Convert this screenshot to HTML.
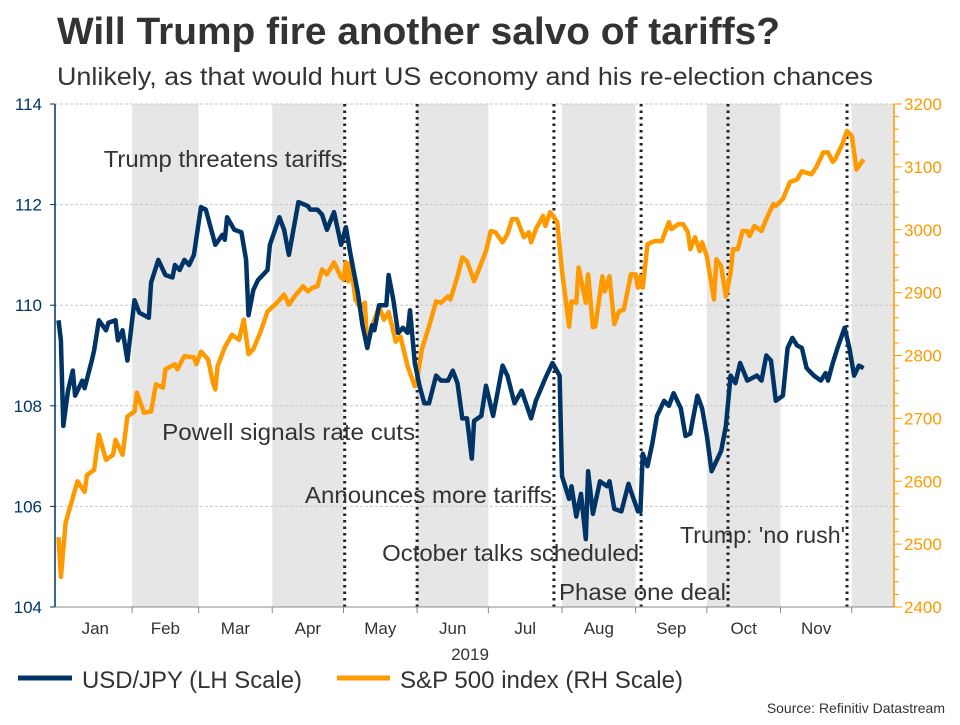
<!DOCTYPE html>
<html><head><meta charset="utf-8"><style>
body{margin:0;background:#fff;}
svg text{font-family:"Liberation Sans",sans-serif;}
</style></head><body>
<svg id="chart" width="960" height="720" xmlns="http://www.w3.org/2000/svg">
<rect width="960" height="720" fill="#fff"/>
<text x="57" y="44" font-size="38" font-weight="bold" fill="#333" textLength="723" lengthAdjust="spacingAndGlyphs">Will Trump fire another salvo of tariffs?</text>
<text x="57" y="85" font-size="25" fill="#333" textLength="816" lengthAdjust="spacingAndGlyphs">Unlikely, as that would hurt US economy and his re-election chances</text>
<g id="bands"></g><g id="grid"></g><g id="events"></g><g id="series"></g><g id="axes"></g><g id="notes"></g>
<line x1="18" y1="678" x2="72" y2="678" stroke="#003467" stroke-width="5"/>
<text x="82" y="688" font-size="24" fill="#333" textLength="220" lengthAdjust="spacingAndGlyphs">USD/JPY (LH Scale)</text>
<line x1="337" y1="678" x2="390" y2="678" stroke="#ff9900" stroke-width="5"/>
<text x="400" y="688" font-size="24" fill="#333" textLength="283" lengthAdjust="spacingAndGlyphs">S&amp;P 500 index (RH Scale)</text>
<text x="945" y="713" font-size="14" fill="#333" text-anchor="end">Source: Refinitiv Datastream</text>
</svg>
<script>
const jpyDays=[0,1,2,4,6,7,10,11,14,15,17,20,21,24,25,27,29,32,34,38,39,42,45,48,49,51,53,55,57,60,62,66,69,70,71,74,77,79,80,82,84,88,89,93,95,97,101,105,106,109,111,113,116,119,121,123,126,128,130,132,133,135,138,139,141,143,145,147,148,150,152,154,156,159,161,164,166,168,170,172,174,175,178,180,183,185,187,189,192,195,199,201,205,208,211,212,215,216,218,220,222,223,225,228,231,232,234,237,240,241,244,245,246,248,250,252,255,257,259,262,264,266,267,269,271,273,275,277,279,281,283,285,287,290,294,296,298,300,302,305,307,309,311,313,315,318,321,323,324,326,328,331,333,335,337,339];
const jpyVals=[109.7,109.3,107.6,108.3,108.7,108.2,108.5,108.35,108.9,109.1,109.7,109.5,109.65,109.7,109.3,109.5,108.9,110.1,109.85,109.75,110.45,110.9,110.6,110.55,110.8,110.7,110.9,110.8,111.0,111.95,111.9,111.2,111.4,111.3,111.75,111.5,111.45,110.9,109.8,110.3,110.5,110.7,111.2,111.75,111.5,111.0,112.05,111.97,111.9,111.9,111.8,111.5,111.85,111.2,111.55,111.0,110.25,109.6,109.15,109.6,109.5,110.0,110.0,110.6,110.1,109.45,109.55,109.45,109.9,108.85,108.4,108.05,108.05,108.6,108.5,108.5,108.7,108.45,107.75,107.75,106.95,107.7,107.8,108.4,107.8,108.3,108.8,108.6,108.05,108.3,107.75,108.1,108.55,108.85,108.6,106.6,106.15,106.4,105.8,106.25,105.35,106.7,105.85,106.5,106.4,106.5,105.95,105.9,106.45,106.3,105.9,105.9,107.05,106.8,107.25,107.8,108.1,108.0,108.25,107.95,107.4,107.45,107.7,108.2,107.95,107.4,106.7,106.9,107.1,107.6,108.6,108.45,108.85,108.5,108.6,108.5,109.0,108.9,108.1,108.2,109.15,109.35,109.2,109.15,108.75,108.6,108.5,108.65,108.5,108.85,109.15,109.55,109.15,108.6,108.8,108.75];
const spxDays=[0,1,3,6,8,11,12,15,17,20,23,24,27,29,32,33,36,39,41,44,45,49,50,53,57,58,60,63,65,66,67,70,73,76,78,80,82,85,88,92,95,97,100,103,105,107,109,111,113,116,119,120,121,122,123,125,127,129,130,132,135,137,139,142,144,147,150,151,153,156,159,161,164,165,168,170,172,175,177,180,182,184,187,189,191,193,196,198,199,201,204,205,207,210,212,215,216,218,219,222,223,225,226,229,230,232,234,236,238,241,243,244,245,246,248,251,254,257,258,261,263,265,266,268,270,271,273,276,277,279,281,283,284,286,288,290,291,293,296,298,301,302,305,308,311,313,317,319,322,324,326,327,330,332,334,336,339];
const spxVals=[2511,2448,2534,2574,2600,2583,2610,2618,2674,2634,2642,2666,2642,2703,2711,2741,2709,2711,2754,2749,2778,2786,2778,2799,2797,2786,2806,2794,2757,2746,2783,2813,2833,2825,2857,2802,2810,2837,2870,2884,2897,2881,2897,2910,2902,2908,2910,2937,2929,2948,2924,2921,2948,2918,2948,2889,2876,2884,2813,2846,2878,2857,2869,2822,2830,2783,2751,2762,2810,2846,2886,2884,2894,2889,2926,2956,2950,2918,2937,2966,2998,2996,2980,2993,3017,3017,2988,2996,2980,3001,3022,3006,3028,3012,2934,2846,2886,2884,2940,2884,2929,2845,2846,2926,2902,2926,2850,2870,2873,2929,2929,2908,2926,2908,2977,2982,2982,3012,3001,3009,3009,2996,2969,2988,2966,2980,2958,2889,2953,2942,2894,2932,2969,2969,2998,2998,2990,3006,2998,3017,3041,3038,3049,3076,3080,3093,3088,3099,3123,3123,3108,3112,3136,3157,3149,3096,3112,3120];
const monthLabels=['Jan','Feb','Mar','Apr','May','Jun','Jul','Aug','Sep','Oct','Nov','Dec'];
const monthStarts=[0,31,59,90,120,151,181,212,243,273,304,334,365];
const leftTicks=[104,106,108,110,112,114];
const rightTicks=[2400,2500,2600,2700,2800,2900,3000,3100,3200];
const eventDays=[120.5,151,208.6,245.3,281.9,332];
const noteTexts=["Trump threatens tariffs","Powell signals rate cuts","Announces more tariffs","October talks scheduled","Trump: 'no rush'","Phase one deal"];
const noteEvent=[0,1,2,3,5,4];
const noteY=[167,440,503,561,543,600];
const noteWidth=[239,253,247,257,165,167];

const X0=55,X1=894,Y0=104,Y1=607;
const xs=d=>58.5+d*2.375;
const yl=v=>Y1-(v-104)/10*(Y1-Y0);
const yr=v=>Y1-(v-2400)/800*(Y1-Y0);
const NS='http://www.w3.org/2000/svg';
function mk(p,t,a){const e=document.createElementNS(NS,t);for(const k in a)e.setAttribute(k,a[k]);document.getElementById(p).appendChild(e);return e;}

for(let m=1;m<12;m+=2){
  const x1=xs(monthStarts[m]),x2=Math.min(xs(monthStarts[m+1]),X1);
  const r=mk('bands','rect',{x:x1,y:Y0,width:x2-x1,height:Y1-Y0,fill:'#e6e6e6'});
  
  
}
leftTicks.forEach(v=>{
  const y=yl(v);
  if(v>104){const g=mk('grid','line',{x1:X0,x2:X1,y1:y,y2:y,stroke:'#c8c8c8','stroke-dasharray':'3,2'});
  
  }
  mk('axes','line',{x1:X0-5,x2:X0,y1:y,y2:y,stroke:'#003467'});
  const t=mk('axes','text',{x:X0-13,y:y+6,'font-size':17,fill:'#003467','text-anchor':'end'});t.textContent=v;
  
  
});
rightTicks.forEach(v=>{
  const y=yr(v);
  const t=mk('axes','text',{x:X1+10,y:y+6,'font-size':17,fill:'#ff9900'});t.textContent=v;
  
  
});
for(let v=2400;v<=3200;v+=20){const y=yr(v);mk('axes','line',{x1:X1,x2:X1+(v%100===0?8:5),y1:y,y2:y,stroke:'#ff9900'});}
mk('axes','line',{x1:X0,x2:X0,y1:Y0,y2:Y1,stroke:'#003467','stroke-width':1.5});
mk('axes','line',{x1:X1,x2:X1,y1:Y0,y2:Y1,stroke:'#ff9900','stroke-width':1.5});
mk('axes','line',{x1:X0,x2:X1,y1:Y1,y2:Y1,stroke:'#888'});
for(let m=0;m<12;m++){
  const x=xs(monthStarts[m]);
  if(m>0)mk('axes','line',{x1:x,x2:x,y1:Y1,y2:Y1+6,stroke:'#888'});
  if(m<11){const t=mk('axes','text',{x:(x+xs(monthStarts[m+1]))/2,y:634,'font-size':17,fill:'#333','text-anchor':'middle'});t.textContent=monthLabels[m];
  
  }
}
const yt=mk('axes','text',{x:470,y:660,'font-size':17,fill:'#333','text-anchor':'middle'});yt.textContent='2019';


eventDays.forEach(d=>{
  const l=mk('events','line',{x1:xs(d),x2:xs(d),y1:Y0,y2:Y1,stroke:'#222','stroke-width':3,'stroke-dasharray':'2.5,4'});
  
  
});
noteTexts.forEach((s,i)=>{
  const xe=xs(eventDays[noteEvent[i]])-2;
  const t=mk('notes','text',{x:xe-noteWidth[i],y:noteY[i],'font-size':23,fill:'#333',textLength:noteWidth[i],lengthAdjust:'spacingAndGlyphs'});t.textContent=s;
  
  
});
const sp=mk('series','path',{d:spxDays.map((d,i)=>(i?'L':'M')+xs(d).toFixed(1)+','+yr(spxVals[i]).toFixed(1)).join(''),fill:'none',stroke:'#ff9900','stroke-width':4.5,'stroke-linejoin':'round'});


const jp=mk('series','path',{d:jpyDays.map((d,i)=>(i?'L':'M')+xs(d).toFixed(1)+','+yl(jpyVals[i]).toFixed(1)).join(''),fill:'none',stroke:'#003467','stroke-width':4.5,'stroke-linejoin':'round'});


</script>
</body></html>
